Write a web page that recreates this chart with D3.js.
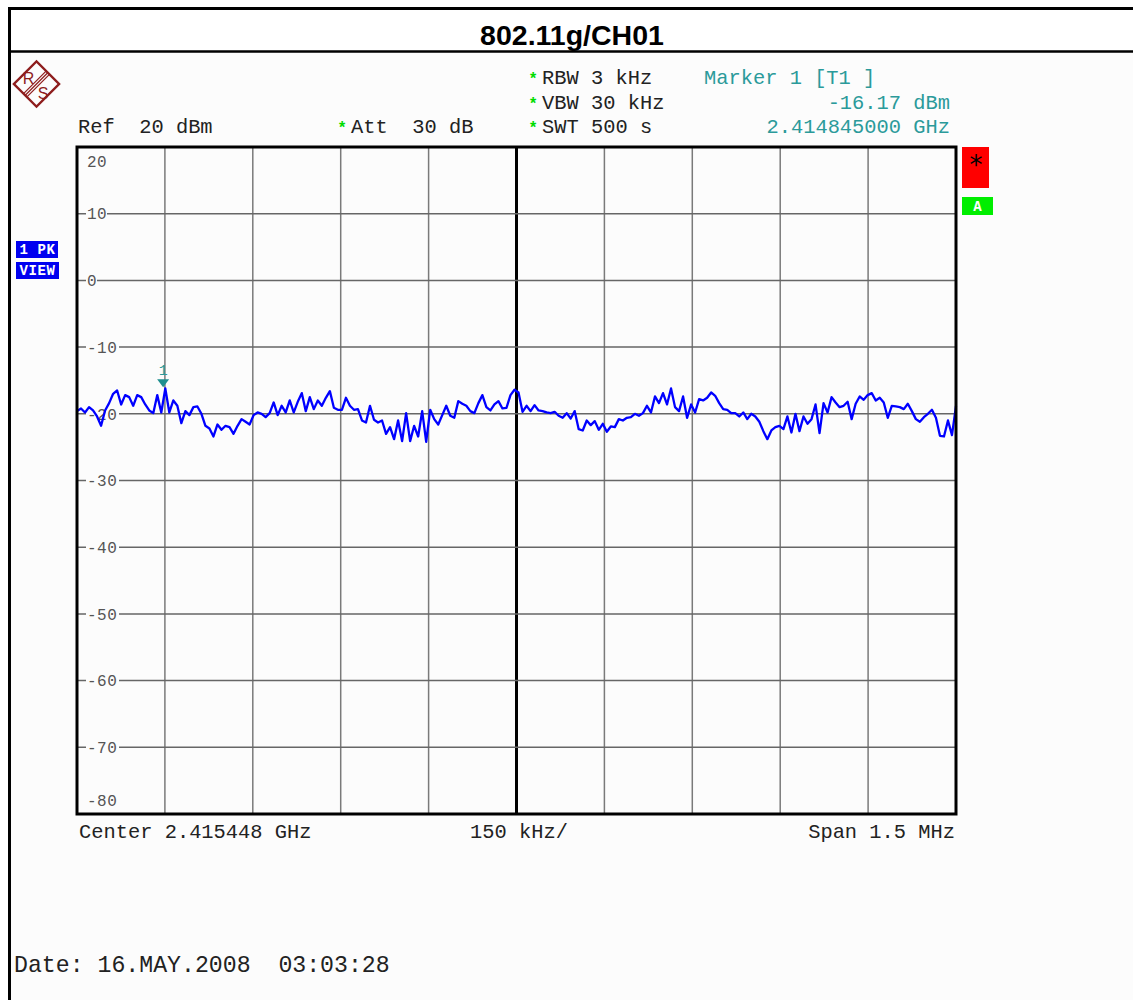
<!DOCTYPE html>
<html><head><meta charset="utf-8">
<script src="https://cdn.jsdelivr.net/npm/d3@7"></script>
<style>body{margin:0;background:#fff}svg{display:block}</style>
</head><body>
<script>
// ---- data ----
const title = "802.11g/CH01";
const yTicks = [20, 10, 0, -10, -20, -30, -40, -50, -60, -70, -80];
const centerFreqGHz = 2.415448;
const spanMHz = 1.5;
const xDivisions = [0,1,2,3,4,5,6,7,8,9,10];
const markerFreqGHz = 2.414845;
const markerDbm = -16.17;
const headerLeft = ["Ref  20 dBm"];
const headerMid = ["Att  30 dB"];
const headerSettings = ["RBW 3 kHz", "VBW 30 kHz", "SWT 500 s"];
const markerInfo = ["Marker 1 [T1 ]", "-16.17 dBm", "2.414845000 GHz"];
const footerTexts = ["Center 2.415448 GHz", "150 kHz/", "Span 1.5 MHz"];
const dateText = "Date: 16.MAY.2008  03:03:28";
const traceDbm = [
-19.6,-19.2,-19.8,-19.0,-19.5,-20.4,-21.8,-19.5,-18.4,-17.0,-16.5,-18.6,-17.2,-17.5,-18.8,-17.2,-17.5,-18.6,-19.5,-19.9,
-17.2,-19.8,-16.2,-19.8,-18.0,-18.8,-21.4,-19.6,-20.2,-19.0,-18.9,-20.0,-21.8,-22.2,-23.4,-21.6,-22.4,-21.8,-22.0,-23.0,
-21.8,-20.8,-21.2,-21.6,-20.2,-19.8,-20.0,-20.5,-19.9,-18.3,-20.2,-18.8,-19.8,-18.0,-19.8,-18.2,-16.9,-19.6,-17.5,-19.3,
-18.0,-18.8,-17.6,-16.6,-19.1,-19.4,-19.4,-17.6,-18.8,-19.4,-19.3,-21.0,-21.3,-18.8,-20.9,-21.3,-21.0,-23.0,-22.0,-23.8,
-21.0,-24.1,-19.9,-24.1,-21.8,-23.4,-19.6,-24.2,-19.4,-20.8,-21.6,-20.2,-18.8,-20.3,-20.6,-18.1,-18.5,-18.8,-19.6,-19.9,
-18.4,-17.2,-19.0,-19.5,-18.6,-18.1,-19.2,-19.1,-17.2,-16.4,-16.8,-19.7,-18.8,-19.6,-18.7,-19.5,-19.6,-19.8,-19.9,-19.7,
-20.3,-20.6,-19.9,-20.7,-19.6,-22.3,-22.5,-21.0,-21.7,-21.1,-22.4,-21.5,-22.7,-21.9,-22.0,-20.8,-21.0,-20.6,-20.5,-20.0,
-20.3,-19.9,-18.8,-19.8,-17.4,-18.4,-16.9,-18.6,-16.2,-19.0,-19.6,-17.4,-20.6,-18.6,-19.8,-17.8,-18.0,-17.6,-16.8,-17.3,
-18.4,-19.3,-19.4,-19.9,-19.9,-20.4,-19.8,-20.8,-20.0,-20.4,-21.2,-22.6,-23.8,-22.5,-22.0,-21.8,-22.3,-20.4,-22.8,-20.0,
-22.6,-20.4,-21.5,-20.8,-18.6,-22.9,-18.4,-19.8,-17.5,-18.3,-19.0,-18.8,-18.2,-20.8,-18.5,-17.4,-17.9,-17.2,-16.9,-18.0,
-17.6,-18.3,-20.6,-18.8,-18.9,-19.0,-19.3,-18.5,-19.6,-20.8,-21.2,-20.5,-20.0,-19.4,-20.6,-23.3,-23.4,-21.0,-23.2,-18.8
];

// ---- layout ----
const W = 1133, H = 1000;
const P = {left: 77, top: 147, right: 956, bottom: 814};
const mono = "'Liberation Mono','Courier New',monospace";
const teal = "#2b9a9a";

const svg = d3.select("body").append("svg").attr("width", W).attr("height", H);
svg.append("rect").attr("width", W).attr("height", H).attr("fill", "#fff");
svg.append("rect").attr("x", 9).attr("y", 52).attr("width", W - 9).attr("height", H - 52).attr("fill", "#fcfcfc");

// outer frame
svg.append("line").attr("x1", 9.5).attr("x2", 9.5).attr("y1", 7).attr("y2", H).attr("stroke", "#000").attr("stroke-width", 3);
svg.append("line").attr("x1", 8).attr("x2", W).attr("y1", 8.5).attr("y2", 8.5).attr("stroke", "#000").attr("stroke-width", 3);
svg.append("line").attr("x1", 8).attr("x2", W).attr("y1", 51.5).attr("y2", 51.5).attr("stroke", "#000").attr("stroke-width", 2.5);

svg.append("text").attr("x", 572).attr("y", 45).attr("text-anchor", "middle")
  .attr("font-family", "'Liberation Sans',Arial,sans-serif").attr("font-weight", "bold")
  .attr("font-size", 28.5).attr("fill", "#000").text(title);

// R&S logo
const logo = svg.append("g").attr("transform", "translate(36.5,84)");
const lc = "#8e1d1d";
logo.append("rect").attr("x", -16).attr("y", -16).attr("width", 32).attr("height", 32)
  .attr("transform", "rotate(45)").attr("fill", "none").attr("stroke", lc).attr("stroke-width", 2.4);
[-2.4, 0, 2.4].forEach(o => {
  logo.append("line").attr("x1", 11 + o * 0.707).attr("y1", -11 + o * 0.707)
    .attr("x2", -11 + o * 0.707).attr("y2", 11 + o * 0.707)
    .attr("stroke", lc).attr("stroke-width", 1.2);
});
logo.append("text").attr("x", -8).attr("y", 0).attr("text-anchor", "middle").attr("font-family", "'Liberation Sans',Arial,sans-serif")
  .attr("font-size", 16).attr("fill", lc).text("R");
logo.append("text").attr("x", 6.5).attr("y", 14.5).attr("text-anchor", "middle").attr("font-family", "'Liberation Sans',Arial,sans-serif")
  .attr("font-size", 16).attr("fill", lc).text("S");

// ---- scales ----
const fStart = centerFreqGHz - spanMHz / 2000, fEnd = centerFreqGHz + spanMHz / 2000;
const x = d3.scaleLinear().domain([fStart, fEnd]).range([P.left, P.right]);
const y = d3.scaleLinear().domain([-80, 20]).range([P.bottom, P.top]);
const xDiv = d3.scaleLinear().domain([0, 10]).range([P.left, P.right]);

// header texts
function txt(xp, yp, s, col, anchor, size) {
  return svg.append("text").attr("x", xp).attr("y", yp).attr("font-family", mono).attr("font-size", size || 20.4)
    .attr("fill", col || "#222").attr("text-anchor", anchor || "start").attr("xml:space", "preserve").text(s);
}
function star(xp, yp) {
  svg.append("text").attr("x", xp).attr("y", yp).attr("font-family", "'Liberation Sans',Arial,sans-serif")
    .attr("font-weight", "bold").attr("font-size", 16).attr("fill", "#00dd00").text("*");
}
txt(78, 133, headerLeft[0]);
star(339, 133); txt(351, 133, headerMid[0]);
headerSettings.forEach((s, i) => { star(530, 84 + i * 24.5); txt(542, 84 + i * 24.5, s); });
txt(704, 84, markerInfo[0], teal);
txt(950, 108.5, markerInfo[1], teal, "end");
txt(950, 133, markerInfo[2], teal, "end");

// left boxes
[["1 PK", 241], ["VIEW", 262]].forEach(([s, yy]) => {
  svg.append("rect").attr("x", 16).attr("y", yy).attr("width", s === "VIEW" ? 43 : 42).attr("height", 17).attr("fill", "#0000f0");
  svg.append("text").attr("x", 37.5).attr("y", yy + 13).attr("text-anchor", "middle").attr("font-family", mono).attr("font-weight", "bold")
    .attr("font-size", 14).attr("letter-spacing", 0.6).attr("fill", "#fff").attr("xml:space", "preserve").text(s);
});
// right boxes
svg.append("rect").attr("x", 962).attr("y", 147).attr("width", 27).attr("height", 41).attr("fill", "#ff0000");
svg.append("text").attr("x", 976).attr("y", 174).attr("text-anchor", "middle").attr("font-family", "'DejaVu Sans',sans-serif")
  .attr("font-size", 26).attr("fill", "#000").text("*");
svg.append("rect").attr("x", 962).attr("y", 197).attr("width", 31).attr("height", 18).attr("fill", "#00ee00");
svg.append("text").attr("x", 977.5).attr("y", 211).attr("text-anchor", "middle").attr("font-family", mono)
  .attr("font-weight", "bold").attr("font-size", 14).attr("fill", "#fff").text("A");

// ---- grid ----
const g = svg.append("g");
g.selectAll(".vg").data(xDivisions.slice(1, -1)).join("line")
  .attr("x1", d => xDiv(d)).attr("x2", d => xDiv(d)).attr("y1", P.top).attr("y2", P.bottom)
  .attr("stroke", d => d === 5 ? "#000" : "#7a7a7a").attr("stroke-width", d => d === 5 ? 3 : 1.5);
g.selectAll(".hg").data(yTicks.slice(1, -1)).join("line")
  .attr("x1", P.left).attr("x2", P.right).attr("y1", d => y(d)).attr("y2", d => y(d))
  .attr("stroke", "#666").attr("stroke-width", 1.5);

// y labels with background gaps
yTicks.forEach(v => {
  let yy = y(v);
  if (v === yTicks[0]) yy += 14;
  if (v === yTicks[yTicks.length - 1]) yy -= 14;
  const s = v < 0 ? "-" + Math.abs(v) : String(v);
  const w = s.length * 10;
  const inner = !(v === yTicks[0] || v === yTicks[yTicks.length - 1]);
  if (inner) g.append("rect").attr("x", 86).attr("y", yy - 6).attr("width", w + (v < 0 ? 3 : 1)).attr("height", 12).attr("fill", "#fcfcfc");
  g.append("text").attr("x", 87).attr("y", yy).attr("dy", "0.36em").attr("font-family", mono)
    .attr("font-size", 16).attr("fill", "#555").attr("letter-spacing", 0.5).text(s);
});

// ---- trace ----
const n = traceDbm.length;
const traceData = traceDbm.map((v, i) => ({f: fStart + i * (fEnd - fStart) / (n - 1), v}));
svg.append("path").datum(traceData)
  .attr("d", d3.line().x(d => x(d.f)).y(d => y(d.v)))
  .attr("fill", "none").attr("stroke", "#0000ff").attr("stroke-width", 2.3).attr("stroke-linejoin", "round");

// frame
svg.append("rect").attr("x", P.left).attr("y", P.top).attr("width", P.right - P.left).attr("height", P.bottom - P.top)
  .attr("fill", "none").attr("stroke", "#000").attr("stroke-width", 3);

// marker
const mx = x(markerFreqGHz), my = y(markerDbm);
svg.append("path").attr("d", `M${mx - 6},${my - 9} L${mx + 6},${my - 9} L${mx},${my - 1} Z`).attr("fill", "#1f8f8f");
svg.append("text").attr("x", mx).attr("y", my - 13).attr("text-anchor", "middle").attr("font-family", mono)
  .attr("font-size", 15).attr("fill", teal).text("1");

// footer
txt(79, 838, footerTexts[0]);
txt(470, 838, footerTexts[1]);
txt(955, 838, footerTexts[2], "#222", "end");
txt(14, 972, dateText, "#222", "start", 23.2);
</script>
</body></html>
